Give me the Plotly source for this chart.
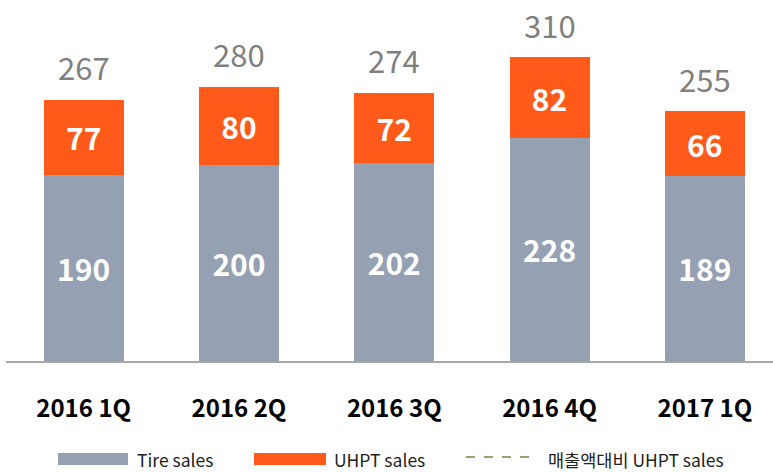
import plotly.graph_objects as go

categories = ["2016 1Q", "2016 2Q", "2016 3Q", "2016 4Q", "2017 1Q"]
tire_sales = [190, 200, 202, 228, 189]
uhpt_sales = [77, 80, 72, 82, 66]
totals = [267, 280, 274, 310, 255]
legend_labels = ["Tire sales", "UHPT sales", "매출액대비 UHPT sales"]

GRAY = "#95a0b3"
ORANGE = "#ff5a19"
OLIVE = "#a39c72"
FONT = "Noto Sans CJK KR"

W, H = 773, 472
L, R, T, B = 6, 0, 0, 111
PW, PH = W - L - R, H - T - B


def px_x(p):
    return (p - L) / PW


def px_y(p):
    return (H - B - p) / PH


fig = go.Figure()
fig.add_bar(
    x=categories, y=tire_sales, name=legend_labels[0],
    marker=dict(color=GRAY, line=dict(width=0)),
    text=tire_sales, textposition="inside", insidetextanchor="middle", textangle=0,
    textfont=dict(color="white", size=30, family=FONT, weight="bold"),
)
fig.add_bar(
    x=categories, y=uhpt_sales, name=legend_labels[1],
    marker=dict(color=ORANGE, line=dict(width=0)),
    text=uhpt_sales, textposition="inside", insidetextanchor="middle", textangle=0,
    textfont=dict(color="white", size=30, family=FONT, weight="bold"),
)

for c, t in zip(categories, totals):
    fig.add_annotation(x=c, y=t, text=str(t), showarrow=False, yshift=33,
                       yanchor="middle", font=dict(size=31, color="#7f7f7f", family=FONT))

# manual legend
shapes = []
shapes.append(dict(type="rect", xref="paper", yref="paper", x0=px_x(58), x1=px_x(128),
                   y0=px_y(465), y1=px_y(453), fillcolor=GRAY, line=dict(width=0)))
shapes.append(dict(type="rect", xref="paper", yref="paper", x0=px_x(254), x1=px_x(326),
                   y0=px_y(465), y1=px_y(453), fillcolor=ORANGE, line=dict(width=0)))
shapes.append(dict(type="line", xref="paper", yref="paper", x0=px_x(466), x1=px_x(533),
                   y0=px_y(457), y1=px_y(457), line=dict(color=OLIVE, width=2, dash="dash")))
fig.update_layout(shapes=shapes)
for xp, lab in zip([135, 332, 546], legend_labels):
    fig.add_annotation(xref="paper", yref="paper", x=px_x(xp), y=px_y(459), text=lab,
                       showarrow=False, xanchor="left", yanchor="middle",
                       font=dict(size=17.5, color="#222222", family=FONT))

fig.update_layout(
    width=W, height=H,
    margin=dict(l=L, r=R, t=T, b=B),
    barmode="stack", bargap=0.485,
    showlegend=False,
    plot_bgcolor="white", paper_bgcolor="white",
    font=dict(family=FONT),
    xaxis=dict(type="category", range=[-0.5, 4.439], showline=True, linecolor="#a6a6a6",
               linewidth=2, showgrid=False, ticks="", ticklabelstandoff=25,
               tickfont=dict(size=24, color="black", family=FONT, weight="bold")),
    yaxis=dict(range=[0, 368.7], visible=False, showgrid=False, zeroline=False),
)

fig.write_html("out.html", config={"displayModeBar": False},
               post_script="document.body.style.margin='0';")
